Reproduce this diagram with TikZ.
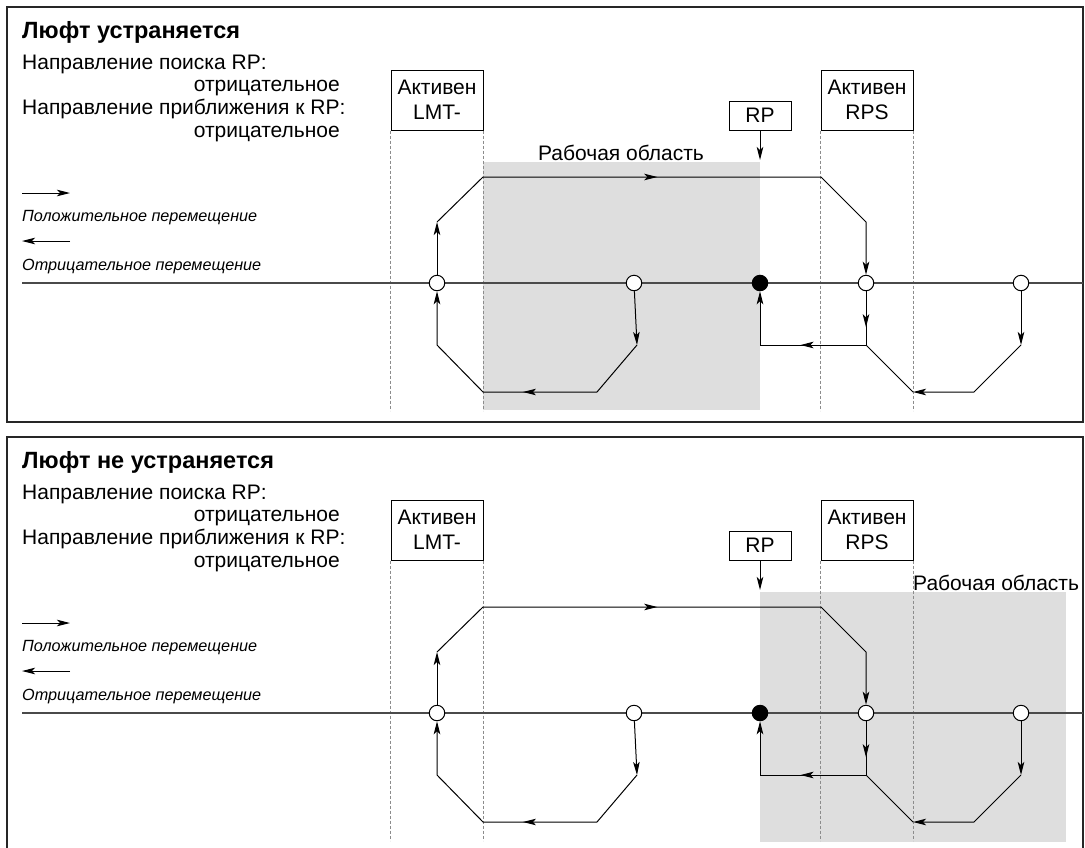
\documentclass[tikz,border=0pt]{standalone}
\usepackage{fontspec}
\setmainfont{Liberation Sans}
\usetikzlibrary{arrows.meta, decorations.markings}
\definecolor{AreaGray}{HTML}{DEDEDE}
\definecolor{GuideGray}{HTML}{8C8C8C}
\definecolor{AxisGray}{HTML}{4A4A4A}

\begin{document}
\begin{tikzpicture}[x=1pt, y=-1pt,
    >={Stealth[length=13pt, width=6.5pt, inset=3pt]},
    travel/.style={line width=1pt},
    refdot/.style={circle, draw, fill=white, line width=1pt, inner sep=0pt, minimum size=15.5pt},
    guide/.style={GuideGray, line width=0.8pt, dash pattern=on 3pt off 2pt},
    flagbox/.style={draw, line width=1pt, align=center, inner sep=0pt, font=\fontsize{21}{25}\selectfont},
    body/.style={font=\fontsize{21}{25}\selectfont, inner sep=0pt},
    note/.style={font=\fontsize{16.2}{19}\selectfont\itshape, inner sep=0pt},
    midarrow/.style={postaction={decorate, decoration={markings, mark=at position #1 with {\arrow{>}}}}}]

    \useasboundingbox (0,0) rectangle (1085,847);
    \clip (0,0) rectangle (1085,847);

    % Working areas
    \fill[AreaGray] (483,162) rectangle (760,410);
    \node[body, anchor=base] (a-area) at (621,160) {Рабочая область};
    \fill[AreaGray] (760,592) rectangle (1066,842);
    \node[body, anchor=base west] (b-area) at (913,590) {Рабочая область};

    \foreach \p/\dy/\head in {a/0/Люфт устраняется, b/430/Люфт не устраняется} {
    \begin{scope}[yshift=-\dy pt]
        % Frame and heading
        \draw[black!85, line width=1.2pt] (7,7) rectangle (1083,422);
        \node[font=\fontsize{23.5}{27}\selectfont\bfseries, anchor=base west, inner sep=0pt] (\p-title) at (22,38) {\head};
        \node[body, anchor=base west] (\p-search) at (22,69) {Направление поиска RP:};
        \node[body, anchor=base east] (\p-searchdir) at (340,91) {отрицательное};
        \node[body, anchor=base west] (\p-approach) at (22,114) {Направление приближения к RP:};
        \node[body, anchor=base east] (\p-approachdir) at (340,137) {отрицательное};

        % Legend
        \coordinate (\p-pos0) at (22,193);
        \coordinate (\p-pos1) at (70,193);
        \draw[travel, ->] (\p-pos0) -- (\p-pos1);
        \node[note, anchor=base west] (\p-postext) at (22,221) {Положительное перемещение};
        \coordinate (\p-neg0) at (70,241);
        \coordinate (\p-neg1) at (22,241);
        \draw[travel, ->] (\p-neg0) -- (\p-neg1);
        \node[note, anchor=base west] (\p-negtext) at (22,270) {Отрицательное перемещение};

        % Switch boxes and guides
        \node[flagbox, minimum width=92pt, minimum height=60pt] (\p-lmt) at (437,100) {Активен\\LMT-};
        \node[flagbox, minimum width=92pt, minimum height=60pt] (\p-rps) at (867,100) {Активен\\RPS};
        \node[flagbox, minimum width=62pt, minimum height=29pt] (\p-rp) at (760,115.5) {RP};
        \coordinate (\p-rpmark) at (760,160);
        \draw[travel, ->] (\p-rp) -- (\p-rpmark);
        \draw[guide] (\p-lmt.south west) -- ++(0,280);
        \draw[guide] (\p-lmt.south east) -- ++(0,280);
        \draw[guide] (\p-rps.south west) -- ++(0,280);
        \draw[guide] (\p-rps.south east) -- ++(0,280);

        % Axis and points
        \coordinate (\p-ax0) at (22,283);
        \coordinate (\p-ax1) at (1083,283);
        \draw[AxisGray, line width=1.2pt] (\p-ax0) -- (\p-ax1);
        \node[refdot] (\p-c1) at (437,283) {};
        \node[refdot] (\p-c2) at (634,283) {};
        \node[refdot, fill=black] (\p-rpdot) at (760,283) {};
        \node[refdot] (\p-c3) at (866,283) {};
        \node[refdot] (\p-c4) at (1021,283) {};

        % Upper run
        \coordinate (\p-u1) at (437,222);
        \coordinate (\p-u2) at (483,177);
        \coordinate (\p-u3) at (821,177);
        \coordinate (\p-u4) at (866,222);
        \draw[travel, ->] (\p-c1) -- (\p-u1);
        \draw[travel, ->, midarrow=0.46] (\p-u1) -- (\p-u2) -- (\p-u3) -- (\p-u4) -- (\p-c3);

        % Lower left run
        \coordinate (\p-l1) at (637,345);
        \coordinate (\p-l2) at (597,392);
        \coordinate (\p-l3) at (483,392);
        \coordinate (\p-l4) at (437,345);
        \draw[travel, ->] (\p-c2) -- (\p-l1);
        \draw[travel, ->, midarrow=0.46] (\p-l1) -- (\p-l2) -- (\p-l3) -- (\p-l4) -- (\p-c1);

        % Lower right run
        \coordinate (\p-r1) at (866,345);
        \coordinate (\p-r2) at (760,345);
        \draw[travel, midarrow=0.67] (\p-c3) -- (\p-r1);
        \draw[travel, ->, midarrow=0.41] (\p-r1) -- (\p-r2) -- (\p-rpdot);
        \coordinate (\p-f1) at (1021,345);
        \coordinate (\p-f2) at (974,392);
        \coordinate (\p-f3) at (913,392);
        \draw[travel, ->] (\p-c4) -- (\p-f1);
        \draw[travel, ->] (\p-f1) -- (\p-f2) -- (\p-f3);
        \draw[travel] (\p-f3) -- (\p-r1);
    \end{scope}
    }
\end{tikzpicture}
\end{document}
